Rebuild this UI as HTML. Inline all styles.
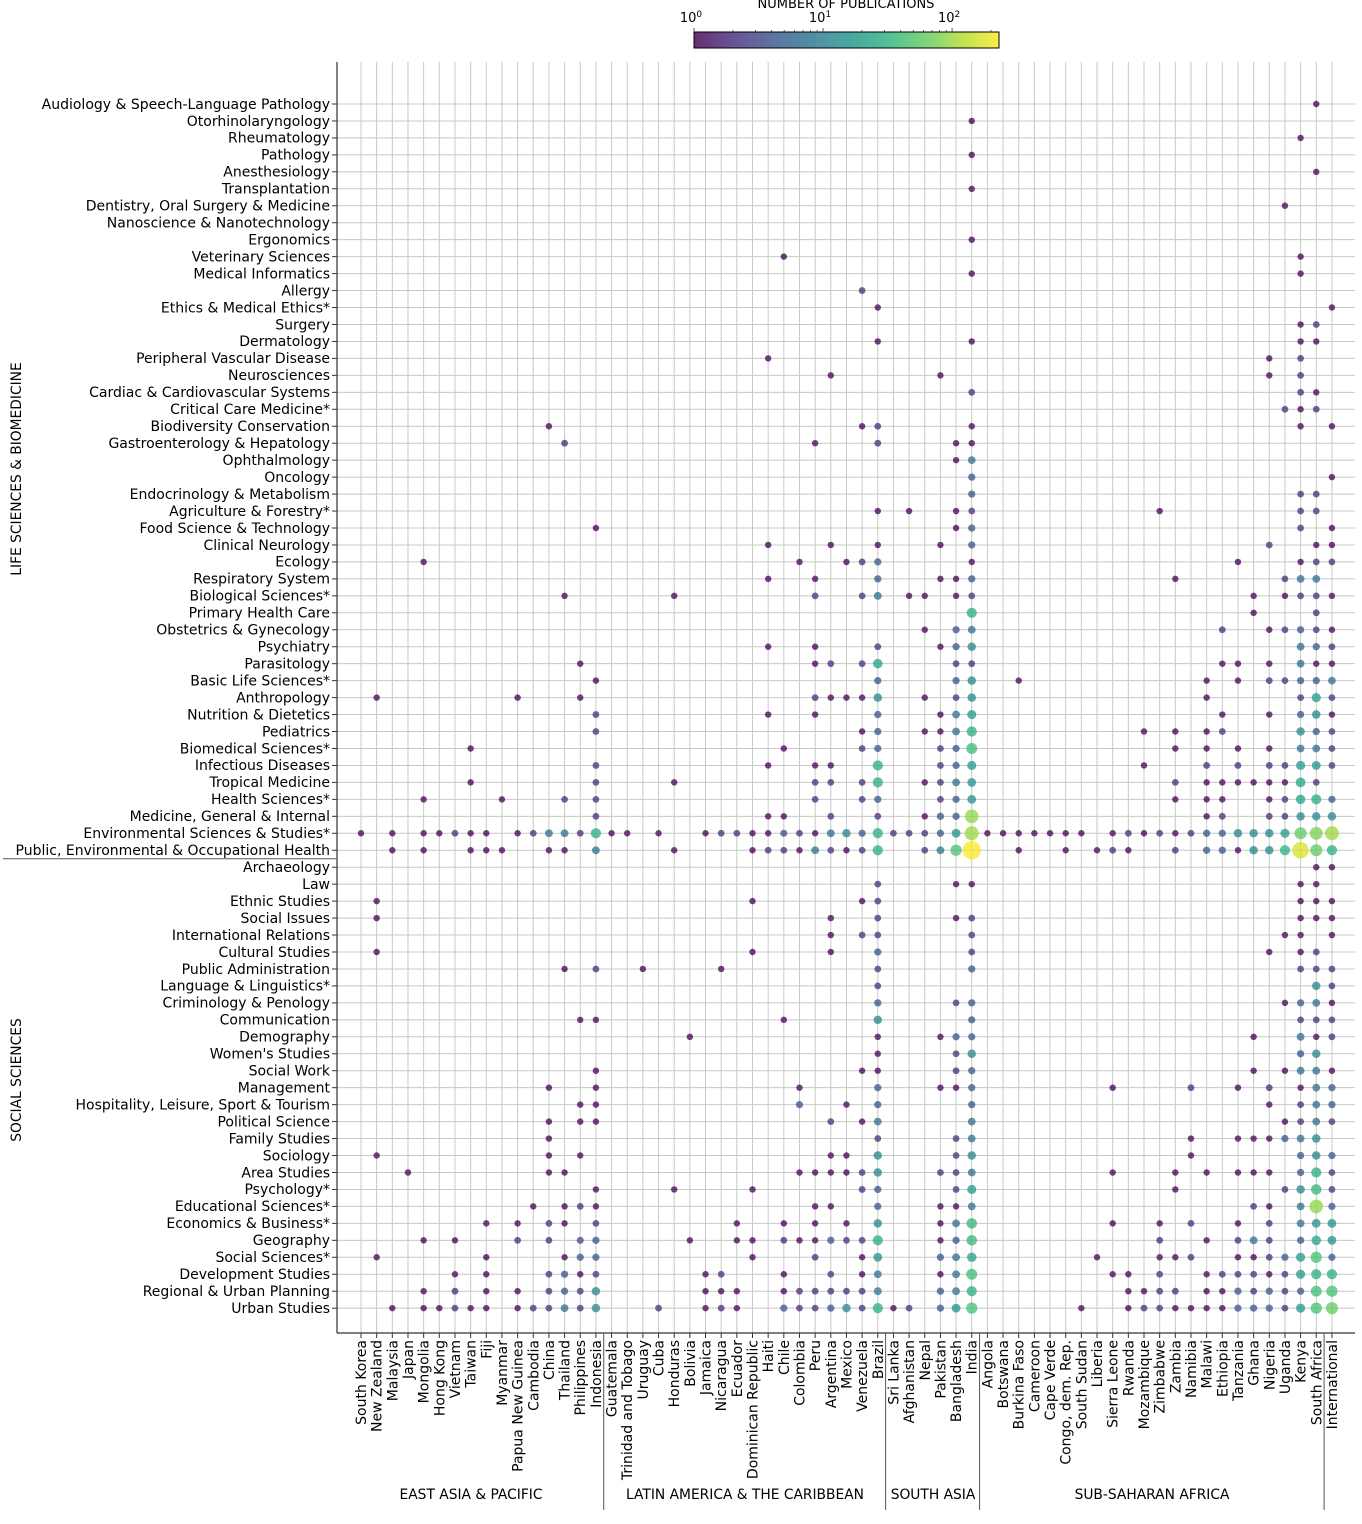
<!DOCTYPE html>
<html><head><meta charset="utf-8"><style>
html,body{margin:0;padding:0;background:#fff;}
svg{display:block;font-family:"DejaVu Sans","Liberation Sans",sans-serif;}
</style></head><body>
<svg id="chart" width="1362" height="1524" viewBox="0 0 1362 1524" xmlns="http://www.w3.org/2000/svg">
<defs><linearGradient id="vir" x1="0" x2="1" y1="0" y2="0">
<stop offset="0" stop-color="#440154"/><stop offset="0.1" stop-color="#482475"/><stop offset="0.2" stop-color="#414487"/><stop offset="0.3" stop-color="#355f8d"/><stop offset="0.4" stop-color="#2a788e"/><stop offset="0.5" stop-color="#21918c"/><stop offset="0.6" stop-color="#22a884"/><stop offset="0.7" stop-color="#44bf70"/><stop offset="0.8" stop-color="#7ad151"/><stop offset="0.9" stop-color="#bddf26"/><stop offset="1" stop-color="#fde725"/>
</linearGradient></defs>
<g id="grid"></g>
<g id="marks"></g>
<g id="labels"></g>
<g>
<text x="846" y="8" text-anchor="middle" font-size="13">NUMBER OF PUBLICATIONS</text>
<rect x="694" y="32" width="305" height="16" fill="url(#vir)" fill-opacity="0.82" stroke="#000" stroke-width="1"/>
<g id="cbticks"></g>
</g>
<g font-size="13.8">
<text x="471" y="1499" text-anchor="middle">EAST ASIA &amp; PACIFIC</text>
<text x="745" y="1499" text-anchor="middle">LATIN AMERICA &amp; THE CARIBBEAN</text>
<text x="933" y="1499" text-anchor="middle">SOUTH ASIA</text>
<text x="1152" y="1499" text-anchor="middle">SUB-SAHARAN AFRICA</text>
<text transform="translate(21,469) rotate(-90)" text-anchor="middle">LIFE SCIENCES &amp; BIOMEDICINE</text>
<text transform="translate(21,1080) rotate(-90)" text-anchor="middle">SOCIAL SCIENCES</text>
</g>
</svg>
<script>
const countries=["South Korea","New Zealand","Malaysia","Japan","Mongolia","Hong Kong","Vietnam","Taiwan","Fiji","Myanmar","Papua New Guinea","Cambodia","China","Thailand","Philippines","Indonesia","Guatemala","Trinidad and Tobago","Uruguay","Cuba","Honduras","Bolivia","Jamaica","Nicaragua","Ecuador","Dominican Republic","Haiti","Chile","Colombia","Peru","Argentina","Mexico","Venezuela","Brazil","Sri Lanka","Afghanistan","Nepal","Pakistan","Bangladesh","India","Angola","Botswana","Burkina Faso","Cameroon","Cape Verde","Congo, dem. Rep.","South Sudan","Liberia","Sierra Leone","Rwanda","Mozambique","Zimbabwe","Zambia","Namibia","Malawi","Ethiopia","Tanzania","Ghana","Nigeria","Uganda","Kenya","South Africa","International"];
const fields=["Audiology & Speech-Language Pathology","Otorhinolaryngology","Rheumatology","Pathology","Anesthesiology","Transplantation","Dentistry, Oral Surgery & Medicine","Nanoscience & Nanotechnology","Ergonomics","Veterinary Sciences","Medical Informatics","Allergy","Ethics & Medical Ethics*","Surgery","Dermatology","Peripheral Vascular Disease","Neurosciences","Cardiac & Cardiovascular Systems","Critical Care Medicine*","Biodiversity Conservation","Gastroenterology & Hepatology","Ophthalmology","Oncology","Endocrinology & Metabolism","Agriculture & Forestry*","Food Science & Technology","Clinical Neurology","Ecology","Respiratory System","Biological Sciences*","Primary Health Care","Obstetrics & Gynecology","Psychiatry","Parasitology","Basic Life Sciences*","Anthropology","Nutrition & Dietetics","Pediatrics","Biomedical Sciences*","Infectious Diseases","Tropical Medicine","Health Sciences*","Medicine, General & Internal","Environmental Sciences & Studies*","Public, Environmental & Occupational Health","Archaeology","Law","Ethnic Studies","Social Issues","International Relations","Cultural Studies","Public Administration","Language & Linguistics*","Criminology & Penology","Communication","Demography","Women's Studies","Social Work","Management","Hospitality, Leisure, Sport & Tourism","Political Science","Family Studies","Sociology","Area Studies","Psychology*","Educational Sciences*","Economics & Business*","Geography","Social Sciences*","Development Studies","Regional & Urban Planning","Urban Studies"];
const colorbarTicks=[1,10,100];
// [fieldIndex, countryIndex, publications]
const cells=[
[0,61,1],[1,39,1],[2,60,1],[3,39,1],[4,61,1],[5,39,1],[6,59,1],[8,39,1],[9,27,1],[9,60,1],[10,39,1],[10,60,1],[11,32,2],[12,33,1],[12,62,1],
[13,60,1],[13,61,2],[14,33,1],[14,39,1],[14,60,1],[14,61,1],[15,26,1],[15,58,1],[15,60,2],[16,30,1],[16,37,1],[16,58,1],[16,60,2],
[17,39,2],[17,60,2],[17,61,1],[18,59,2],[18,60,1],[18,61,2],
[19,12,1],[19,32,1],[19,33,2],[19,39,1],[19,60,1],[19,62,1],
[20,13,2],[20,29,1],[20,33,2],[20,38,1],[20,39,1],
[21,38,1],[21,39,7],[22,39,4],[22,62,1],[23,39,4],[23,60,2],[23,61,2],
[24,33,1],[24,35,1],[24,38,1],[24,39,2],[24,51,1],[24,60,2],[24,61,2],
[25,15,1],[25,38,1],[25,39,4],[25,60,2],[25,62,1],
[26,26,1],[26,30,1],[26,33,1],[26,37,1],[26,39,4],[26,58,2],[26,61,1],[26,62,1],
[27,4,1],[27,28,1],[27,31,1],[27,32,2],[27,33,4],[27,39,1],[27,56,1],[27,60,1],[27,61,2],[27,62,2],
[28,26,1],[28,29,1],[28,33,4],[28,37,1],[28,38,1],[28,39,4],[28,52,1],[28,59,2],[28,60,7],[28,61,7],
[29,13,1],[29,20,1],[29,29,2],[29,32,2],[29,33,7],[29,35,1],[29,36,1],[29,38,1],[29,39,2],[29,57,1],[29,59,1],[29,60,2],[29,61,2],[29,62,1],
[30,39,30],[30,57,1],[30,61,2],
[31,36,1],[31,38,4],[31,39,7],[31,55,2],[31,58,1],[31,59,2],[31,60,4],[31,61,2],[31,62,1],
[32,26,1],[32,29,1],[32,33,2],[32,37,1],[32,38,4],[32,39,12],[32,60,7],[32,61,4],[32,62,2],
[33,14,1],[33,29,1],[33,30,2],[33,32,2],[33,33,22],[33,38,2],[33,39,2],[33,55,1],[33,56,1],[33,58,1],[33,60,7],[33,61,1],[33,62,1],
[34,15,1],[34,33,4],[34,38,4],[34,39,12],[34,42,1],[34,54,1],[34,56,1],[34,58,2],[34,59,2],[34,60,4],[34,61,4],[34,62,7],
[35,1,1],[35,10,1],[35,14,1],[35,29,2],[35,30,1],[35,31,1],[35,32,1],[35,33,12],[35,36,1],[35,38,2],[35,39,12],[35,54,1],[35,60,2],[35,61,18],[35,62,2],
[36,15,2],[36,26,1],[36,29,1],[36,33,4],[36,37,1],[36,38,7],[36,39,18],[36,55,1],[36,58,1],[36,60,4],[36,61,12],[36,62,1],
[37,15,2],[37,32,1],[37,33,4],[37,36,1],[37,37,1],[37,38,7],[37,39,30],[37,50,1],[37,52,1],[37,54,1],[37,55,2],[37,60,12],[37,61,4],[37,62,2],
[38,7,1],[38,27,1],[38,32,2],[38,33,4],[38,37,2],[38,38,4],[38,39,40],[38,52,1],[38,54,1],[38,56,1],[38,58,1],[38,60,7],[38,61,7],[38,62,2],
[39,15,2],[39,26,1],[39,29,1],[39,30,1],[39,33,30],[39,37,2],[39,38,4],[39,39,18],[39,50,1],[39,54,2],[39,56,2],[39,58,2],[39,59,2],[39,60,18],[39,61,15],[39,62,2],
[40,7,1],[40,15,2],[40,20,1],[40,29,2],[40,30,2],[40,32,2],[40,33,30],[40,36,1],[40,37,2],[40,38,7],[40,39,15],[40,52,2],[40,54,1],[40,55,1],[40,56,1],[40,57,1],[40,58,1],[40,59,1],[40,60,25],[40,61,2],
[41,4,1],[41,9,1],[41,13,2],[41,15,2],[41,29,2],[41,32,2],[41,33,4],[41,37,2],[41,38,4],[41,39,15],[41,52,1],[41,54,1],[41,55,1],[41,58,1],[41,59,2],[41,60,22],[41,61,28],[41,62,4],
[42,15,2],[42,26,1],[42,27,1],[42,30,2],[42,33,2],[42,36,1],[42,37,4],[42,38,4],[42,39,90],[42,54,1],[42,55,2],[42,58,2],[42,59,2],[42,60,12],[42,61,12],[42,62,12],
[43,0,1],[43,2,1],[43,4,1],[43,5,1],[43,6,2],[43,7,1],[43,8,1],[43,10,1],[43,11,2],[43,12,7],[43,13,7],[43,14,2],[43,15,30],[43,16,1],[43,17,1],[43,19,1],[43,22,1],[43,23,2],[43,24,2],[43,25,1],[43,26,1],[43,27,3],[43,28,2],[43,29,1],[43,30,7],[43,31,12],[43,32,4],[43,33,30],[43,34,2],[43,35,2],[43,36,2],[43,37,4],[43,38,15],[43,39,100],[43,40,1],[43,41,1],[43,42,1],[43,43,1],[43,44,1],[43,45,1],[43,46,1],[43,48,1],[43,49,2],[43,50,1],[43,51,2],[43,52,1],[43,53,2],[43,54,4],[43,55,4],[43,56,12],[43,57,12],[43,58,12],[43,59,18],[43,60,60],[43,61,75],[43,62,100],
[44,2,1],[44,4,1],[44,7,1],[44,8,1],[44,9,1],[44,12,1],[44,13,1],[44,15,7],[44,20,1],[44,25,1],[44,26,2],[44,27,2],[44,28,1],[44,29,7],[44,30,2],[44,31,1],[44,32,2],[44,33,30],[44,36,2],[44,37,7],[44,38,45],[44,39,230],[44,42,1],[44,45,1],[44,47,1],[44,48,2],[44,49,1],[44,52,2],[44,54,4],[44,55,4],[44,56,1],[44,57,12],[44,58,12],[44,59,30],[44,60,170],[44,61,60],[44,62,30],
[45,61,1],[45,62,1],
[46,33,2],[46,38,1],[46,39,1],[46,60,1],[46,61,1],
[47,1,1],[47,25,1],[47,32,1],[47,33,2],[47,60,1],[47,61,1],[47,62,1],
[48,1,1],[48,30,1],[48,33,2],[48,38,1],[48,39,2],[48,60,1],[48,61,1],[48,62,1],
[49,30,1],[49,32,2],[49,33,2],[49,39,2],[49,59,1],[49,60,1],[49,62,1],
[50,1,1],[50,25,1],[50,30,1],[50,33,4],[50,39,2],[50,58,1],[50,60,1],[50,61,2],
[51,13,1],[51,15,2],[51,18,1],[51,23,1],[51,33,2],[51,39,4],[51,60,2],[51,61,2],[51,62,2],
[52,33,2],[52,61,12],[52,62,2],
[53,33,4],[53,38,2],[53,39,4],[53,59,1],[53,60,4],[53,61,7],[53,62,1],
[54,14,1],[54,15,1],[54,27,1],[54,33,12],[54,39,4],[54,60,2],[54,61,2],[54,62,2],
[55,21,1],[55,33,1],[55,37,1],[55,38,4],[55,39,4],[55,57,1],[55,60,7],[55,61,1],[55,62,2],
[56,33,1],[56,38,2],[56,39,12],[56,60,4],[56,61,12],
[57,15,1],[57,32,1],[57,33,1],[57,38,2],[57,39,4],[57,57,1],[57,59,1],[57,60,7],[57,61,7],[57,62,1],
[58,12,1],[58,15,1],[58,28,1],[58,33,4],[58,37,1],[58,38,1],[58,39,4],[58,48,1],[58,53,2],[58,56,1],[58,58,2],[58,60,1],[58,61,7],[58,62,4],
[59,14,1],[59,15,1],[59,28,4],[59,31,1],[59,33,4],[59,39,4],[59,58,1],[59,60,2],[59,61,7],[59,62,4],
[60,12,1],[60,14,1],[60,15,1],[60,30,2],[60,32,1],[60,33,7],[60,39,7],[60,59,1],[60,60,2],[60,61,7],[60,62,2],
[61,12,1],[61,33,2],[61,38,2],[61,39,7],[61,53,1],[61,56,1],[61,57,1],[61,58,1],[61,59,4],[61,60,7],[61,61,12],
[62,1,1],[62,12,1],[62,14,1],[62,30,1],[62,31,1],[62,33,12],[62,38,2],[62,39,12],[62,53,1],[62,60,4],[62,61,12],[62,62,4],
[63,3,1],[63,12,1],[63,13,1],[63,28,1],[63,29,1],[63,30,1],[63,31,1],[63,32,2],[63,33,12],[63,37,2],[63,38,2],[63,39,7],[63,48,1],[63,52,1],[63,54,1],[63,56,1],[63,57,1],[63,58,1],[63,60,4],[63,61,30],[63,62,2],
[64,15,1],[64,20,1],[64,25,1],[64,32,2],[64,33,4],[64,38,2],[64,39,18],[64,52,1],[64,59,2],[64,60,12],[64,61,35],[64,62,2],
[65,11,1],[65,13,1],[65,14,2],[65,15,1],[65,29,1],[65,30,1],[65,33,4],[65,37,1],[65,38,1],[65,39,7],[65,57,2],[65,58,1],[65,60,7],[65,61,90],[65,62,4],
[66,8,1],[66,10,1],[66,12,2],[66,13,1],[66,15,2],[66,24,1],[66,27,1],[66,29,1],[66,31,1],[66,33,12],[66,37,1],[66,38,7],[66,39,35],[66,48,1],[66,51,1],[66,53,2],[66,56,1],[66,58,2],[66,60,7],[66,61,15],[66,62,15],
[67,4,1],[67,6,1],[67,10,2],[67,12,2],[67,14,3],[67,15,4],[67,21,1],[67,24,1],[67,25,1],[67,27,2],[67,28,1],[67,29,1],[67,30,4],[67,31,2],[67,32,2],[67,33,30],[67,37,1],[67,38,4],[67,39,35],[67,51,2],[67,54,1],[67,56,2],[67,57,7],[67,58,2],[67,60,4],[67,61,22],[67,62,15],
[68,1,1],[68,8,1],[68,13,1],[68,14,4],[68,15,4],[68,25,1],[68,29,2],[68,32,1],[68,33,15],[68,37,4],[68,38,7],[68,39,22],[68,47,1],[68,51,1],[68,52,1],[68,53,2],[68,56,1],[68,57,1],[68,58,2],[68,59,4],[68,60,18],[68,61,45],[68,62,4],
[69,6,1],[69,8,1],[69,12,2],[69,13,4],[69,14,1],[69,15,2],[69,22,1],[69,23,2],[69,27,1],[69,30,2],[69,32,1],[69,33,7],[69,37,1],[69,38,7],[69,39,40],[69,48,1],[69,49,1],[69,51,2],[69,54,1],[69,55,2],[69,56,2],[69,57,2],[69,58,1],[69,59,2],[69,60,18],[69,61,30],[69,62,30],
[70,4,1],[70,6,2],[70,8,1],[70,10,1],[70,12,2],[70,13,4],[70,14,2],[70,15,12],[70,22,1],[70,23,1],[70,24,1],[70,27,1],[70,28,2],[70,29,2],[70,30,2],[70,31,2],[70,32,2],[70,33,8],[70,37,4],[70,38,7],[70,39,30],[70,49,1],[70,50,1],[70,51,2],[70,52,2],[70,54,1],[70,55,1],[70,56,4],[70,57,2],[70,58,4],[70,59,2],[70,60,4],[70,61,40],[70,62,45],
[71,2,1],[71,4,1],[71,5,1],[71,6,2],[71,7,1],[71,8,1],[71,10,1],[71,11,2],[71,12,2],[71,13,7],[71,14,2],[71,15,12],[71,19,2],[71,22,1],[71,23,2],[71,24,1],[71,27,4],[71,28,2],[71,29,2],[71,30,4],[71,31,12],[71,32,2],[71,33,30],[71,34,1],[71,35,2],[71,37,4],[71,38,15],[71,39,45],[71,46,1],[71,49,1],[71,50,2],[71,51,2],[71,52,1],[71,53,1],[71,54,1],[71,55,1],[71,56,4],[71,57,4],[71,58,4],[71,59,2],[71,60,18],[71,61,45],[71,62,60]
];

const NS="http://www.w3.org/2000/svg";
const L=337,R=1355,T=62,B=1333;
const x0=361,dx=15.66,y0=104,dy=16.96;
const VMAX=231;
function xScale(i){return x0+i*dx;}
function yScale(j){return y0+j*dy;}
function cbScale(v){return 694+305*Math.log10(v)/Math.log10(VMAX);}
const vir=["#440154","#482475","#414487","#355f8d","#2a788e","#21918c","#22a884","#44bf70","#7ad151","#bddf26","#fde725"];
function hex(h){return [1,3,5].map(k=>parseInt(h.substr(k,2),16));}
function color(v){let t=Math.max(0,Math.min(1,Math.log10(v)/Math.log10(VMAX)))*10;let i=Math.min(9,Math.floor(t)),f=t-i;let a=hex(vir[i]),b=hex(vir[i+1]);return "rgb("+a.map((c,k)=>Math.round(c+(b[k]-c)*f)).join(",")+")";}
function rScale(v){return 2.8+0.42*Math.sqrt(v);}
function mk(tag,attrs,parent){const e=document.createElementNS(NS,tag);for(const k in attrs)e.setAttribute(k,attrs[k]);parent.appendChild(e);return e;}

const grid=document.getElementById("grid"),marks=document.getElementById("marks"),labels=document.getElementById("labels");
fields.forEach((f,j)=>{
  const y=yScale(j);
  const ln=mk("line",{x1:L,x2:R,y1:y,y2:y,stroke:"#c8c8c8","stroke-width":1},grid);
  
  
  const tk=mk("line",{x1:L-5,x2:L,y1:y,y2:y,stroke:"#333","stroke-width":1},grid);
  
  
  const t=mk("text",{x:330,y:y+4.8,"text-anchor":"end","font-size":"14"},labels);
  t.textContent=f;
  
  
});
countries.forEach((c,i)=>{
  const x=xScale(i);
  const ln=mk("line",{x1:x,x2:x,y1:T,y2:B,stroke:"#c8c8c8","stroke-width":1},grid);
  
  
  const tk=mk("line",{x1:x,x2:x,y1:B,y2:B+5,stroke:"#333","stroke-width":1},grid);
  
  
  const t=mk("text",{transform:"translate("+(x+5)+","+(B+7)+") rotate(-90)","text-anchor":"end","font-size":"14"},labels);
  t.textContent=c;
  
  
});
const sp1=mk("line",{x1:L,x2:L,y1:T,y2:B,stroke:"#333","stroke-width":1.2},grid);


const sp2=mk("line",{x1:L,x2:R,y1:B,y2:B,stroke:"#333","stroke-width":1.2},grid);


[15,33,39,61].forEach(i=>{
  const x=(xScale(i)+xScale(i+1))/2;
  const s=mk("line",{x1:x,x2:x,y1:B,y2:1510,stroke:"#555","stroke-width":1},grid);
  
  
});
const ys=(yScale(44)+yScale(45))/2;
const hs=mk("line",{x1:3,x2:L,y1:ys,y2:ys,stroke:"#555","stroke-width":1},grid);


cells.slice().sort((a,b)=>a[2]-b[2]).forEach(c=>{
  const d=mk("circle",{cx:xScale(c[1]),cy:yScale(c[0]),r:rScale(c[2]).toFixed(2),fill:color(c[2]),"fill-opacity":0.75},marks);
  
  
});
const cb=document.getElementById("cbticks");
for(let d=0;d<3;d++){for(let m=1;m<10;m++){const v=m*Math.pow(10,d);if(v>VMAX)break;const x=cbScale(v);
  const tk=mk("line",{x1:x,x2:x,y1:32,y2:m===1?28:30,stroke:"#333","stroke-width":0.8},cb);
  
  
}}
colorbarTicks.forEach((v,k)=>{
  const x=cbScale(v);
  const t=mk("text",{x:x-3,y:22,"text-anchor":"middle","font-size":"13"},cb);
  t.textContent="10";
  const s=document.createElementNS(NS,"tspan");s.setAttribute("dy","-5");s.setAttribute("font-size","9");s.textContent=String(k);t.appendChild(s);
  
  
});
</script>
</body></html>
